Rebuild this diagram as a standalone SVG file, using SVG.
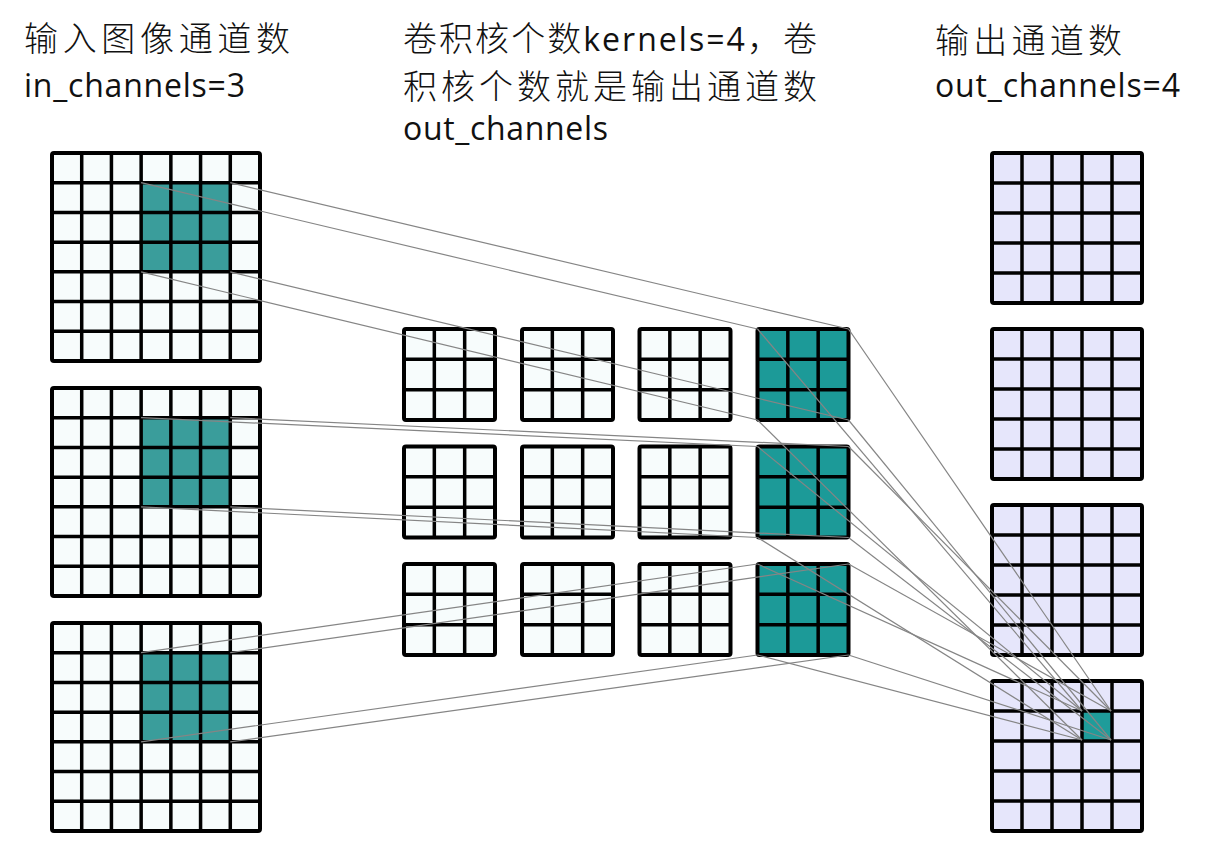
<svg xmlns="http://www.w3.org/2000/svg" xmlns:xlink="http://www.w3.org/1999/xlink" width="1231" height="853" viewBox="0 0 1231 853">
<style>
  .txt { font-family: "Open Sans", "Noto Sans CJK SC", sans-serif; fill: #111; }
  .cjk { font-size: 34px; font-weight: 300; }
  .lat { font-size: 32px; font-weight: 400; }
  .grid { fill: none; stroke: #000; stroke-width: 3.5; }
  .border { fill: none; stroke: #000; stroke-width: 4; }
  .conn line { stroke: #858585; stroke-width: 1.2; }
</style>
<defs>
  <g id="g7lines">
    <path class="grid" d="M29.71,0V208M59.43,0V208M89.14,0V208M118.86,0V208M148.57,0V208M178.29,0V208M0,29.71H208M0,59.43H208M0,89.14H208M0,118.86H208M0,148.57H208M0,178.29H208"/>
    <rect class="border" x="0" y="0" width="208" height="208" rx="2"/>
  </g>
  <g id="g5lines">
    <path class="grid" d="M30,0V150M60,0V150M90,0V150M120,0V150M0,30H150M0,60H150M0,90H150M0,120H150"/>
    <rect class="border" x="0" y="0" width="150" height="150" rx="2"/>
  </g>
  <g id="g3lines">
    <path class="grid" d="M30.33,0V91M60.67,0V91M0,30.33H91M0,60.67H91"/>
    <rect class="border" x="0" y="0" width="91" height="91" rx="2"/>
  </g>
  <g id="input">
    <rect x="0" y="0" width="208" height="208" fill="#f7fcfc"/>
    <rect x="89.14" y="29.71" width="89.15" height="89.15" fill="#3a9d9b"/>
    <use xlink:href="#g7lines"/>
  </g>
  <g id="kwhite">
    <rect x="0" y="0" width="91" height="91" fill="#f7fcfc"/>
    <use xlink:href="#g3lines"/>
  </g>
  <g id="kteal">
    <rect x="0" y="0" width="91" height="91" fill="#1c9a98"/>
    <use xlink:href="#g3lines"/>
  </g>
  <g id="outg">
    <rect x="0" y="0" width="150" height="150" fill="#e6e6fb"/>
    <use xlink:href="#g5lines"/>
  </g>
</defs>

<rect width="1231" height="853" fill="#ffffff"/>

<g id="labels">
  <text class="txt cjk" x="24" y="51" textLength="266" lengthAdjust="spacing">输入图像通道数</text>
  <text class="txt lat" x="24" y="97" textLength="221" lengthAdjust="spacing">in_channels=3</text>
  <text class="txt cjk" x="403" y="51" textLength="414" lengthAdjust="spacing">卷积核个数<tspan class="lat">kernels=4</tspan>，卷</text>
  <text class="txt cjk" x="403" y="99" textLength="414" lengthAdjust="spacing">积核个数就是输出通道数</text>
  <text class="txt lat" x="403" y="140" textLength="205" lengthAdjust="spacing">out_channels</text>
  <text class="txt cjk" x="935" y="53" textLength="187" lengthAdjust="spacing">输出通道数</text>
  <text class="txt lat" x="935" y="97" textLength="245" lengthAdjust="spacing">out_channels=4</text>
</g>

<g id="input1"><use xlink:href="#input" x="52" y="153"/></g>
<g id="input2"><use xlink:href="#input" x="52" y="388"/></g>
<g id="input3"><use xlink:href="#input" x="52" y="623"/></g>

<g id="kernel-1-1"><use xlink:href="#kwhite" x="404" y="329"/></g>
<g id="kernel-1-2"><use xlink:href="#kwhite" x="522" y="329"/></g>
<g id="kernel-1-3"><use xlink:href="#kwhite" x="639.5" y="329"/></g>
<g id="kernel-1-4"><use xlink:href="#kteal" x="757.5" y="329"/></g>
<g id="kernel-2-1"><use xlink:href="#kwhite" x="404" y="446.5"/></g>
<g id="kernel-2-2"><use xlink:href="#kwhite" x="522" y="446.5"/></g>
<g id="kernel-2-3"><use xlink:href="#kwhite" x="639.5" y="446.5"/></g>
<g id="kernel-2-4"><use xlink:href="#kteal" x="757.5" y="446.5"/></g>
<g id="kernel-3-1"><use xlink:href="#kwhite" x="404" y="564"/></g>
<g id="kernel-3-2"><use xlink:href="#kwhite" x="522" y="564"/></g>
<g id="kernel-3-3"><use xlink:href="#kwhite" x="639.5" y="564"/></g>
<g id="kernel-3-4"><use xlink:href="#kteal" x="757.5" y="564"/></g>

<g id="output1"><use xlink:href="#outg" x="992" y="153"/></g>
<g id="output2"><use xlink:href="#outg" x="992" y="329"/></g>
<g id="output3"><use xlink:href="#outg" x="992" y="505"/></g>
<g id="output4">
  <rect x="992" y="681" width="150" height="150" fill="#e6e6fb"/>
  <rect x="1082" y="711" width="30" height="30" fill="#1f9c9a"/>
  <use xlink:href="#g5lines" x="992" y="681"/>
</g>

<g id="connectors" class="conn">
  <line x1="141.1" y1="182.7" x2="757.5" y2="329"/>
  <line x1="230.3" y1="182.7" x2="848.5" y2="329"/>
  <line x1="141.1" y1="271.9" x2="757.5" y2="420"/>
  <line x1="230.3" y1="271.9" x2="848.5" y2="420"/>
  <line x1="141.1" y1="417.7" x2="757.5" y2="446.5"/>
  <line x1="230.3" y1="417.7" x2="848.5" y2="446.5"/>
  <line x1="141.1" y1="506.9" x2="757.5" y2="537.5"/>
  <line x1="230.3" y1="506.9" x2="848.5" y2="537.5"/>
  <line x1="141.1" y1="652.7" x2="757.5" y2="564"/>
  <line x1="230.3" y1="652.7" x2="848.5" y2="564"/>
  <line x1="141.1" y1="741.9" x2="757.5" y2="655"/>
  <line x1="230.3" y1="741.9" x2="848.5" y2="655"/>
  <line x1="757.5" y1="329" x2="1082" y2="711"/>
  <line x1="848.5" y1="329" x2="1111" y2="711"/>
  <line x1="757.5" y1="420" x2="1082" y2="740"/>
  <line x1="848.5" y1="420" x2="1111" y2="740"/>
  <line x1="757.5" y1="446.5" x2="1082" y2="711"/>
  <line x1="848.5" y1="446.5" x2="1111" y2="711"/>
  <line x1="757.5" y1="537.5" x2="1082" y2="740"/>
  <line x1="848.5" y1="537.5" x2="1111" y2="740"/>
  <line x1="757.5" y1="564" x2="1082" y2="711"/>
  <line x1="848.5" y1="564" x2="1111" y2="711"/>
  <line x1="757.5" y1="655" x2="1082" y2="740"/>
  <line x1="848.5" y1="655" x2="1111" y2="740"/>
</g>
</svg>
